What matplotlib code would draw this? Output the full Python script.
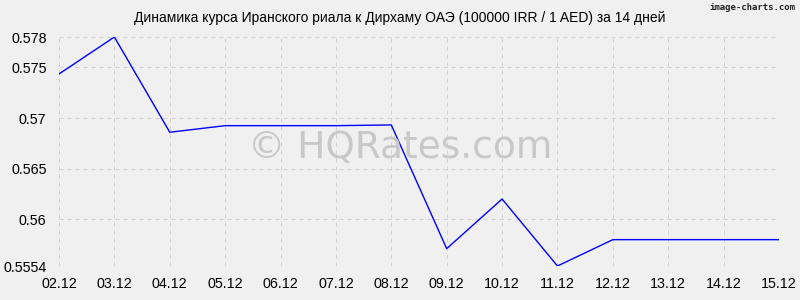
import matplotlib
matplotlib.use('Agg')
import matplotlib.pyplot as plt

# dates and rates (IRR 100000 -> AED)
dates = ['02.12', '03.12', '04.12', '05.12', '06.12', '07.12', '08.12',
         '09.12', '10.12', '11.12', '12.12', '13.12', '14.12', '15.12']
rates = [0.57435, 0.5780, 0.56860, 0.56925, 0.56925, 0.56925, 0.56932,
         0.55711, 0.56201, 0.5554, 0.5580, 0.5580, 0.5580, 0.5580]
y_ticks = [0.5554, 0.56, 0.565, 0.57, 0.575, 0.578]
y_labels = ['0.5554', '0.56', '0.565', '0.57', '0.575', '0.578']

title = 'Динамика курса Иранского риала к Дирхаму ОАЭ (100000 IRR / 1 AED) за 14 дней'

plt.rcParams['font.family'] = ['Liberation Sans', 'DejaVu Sans']

fig = plt.figure(figsize=(8, 3), dpi=100, facecolor='#f0f0f0')
ax = fig.add_axes([59 / 800, 1 - 266 / 300, 720 / 800, 229 / 300])
ax.set_facecolor('#f0f0f0')

x = list(range(len(dates)))
ax.plot(x, rates, color='#0000ff', lw=1, zorder=3)

ax.set_xlim(0, len(dates) - 1)
ax.set_ylim(y_ticks[0], y_ticks[-1])
ax.set_xticks(x)
ax.set_xticklabels(dates)
ax.set_yticks(y_ticks)
ax.set_yticklabels(y_labels)

ax.grid(True, color='#d2d2d2', linestyle=(0, (4, 4)), lw=0.72)
for s in ax.spines.values():
    s.set_visible(False)
ax.tick_params(length=0, labelsize=10.3, colors='#000000')
ax.tick_params(axis='y', pad=9)
ax.tick_params(axis='x', pad=8)

# watermark
fig.text(400 / 800, 1 - 148 / 300, '© HQRates.com', ha='center', va='center',
         fontsize=27, color='#c8c8c8', family='DejaVu Sans', zorder=1)

fig.text(0.5, 1 - 18 / 300, title, ha='center', va='center', fontsize=10)
fig.text(795 / 800, 1 - 8 / 300, 'image-charts.com', ha='right', va='center',
         fontsize=6.5, color='#222222', family='DejaVu Sans Mono',
         fontweight='bold')

fig.savefig('out.png', dpi=100, facecolor='#f0f0f0')
